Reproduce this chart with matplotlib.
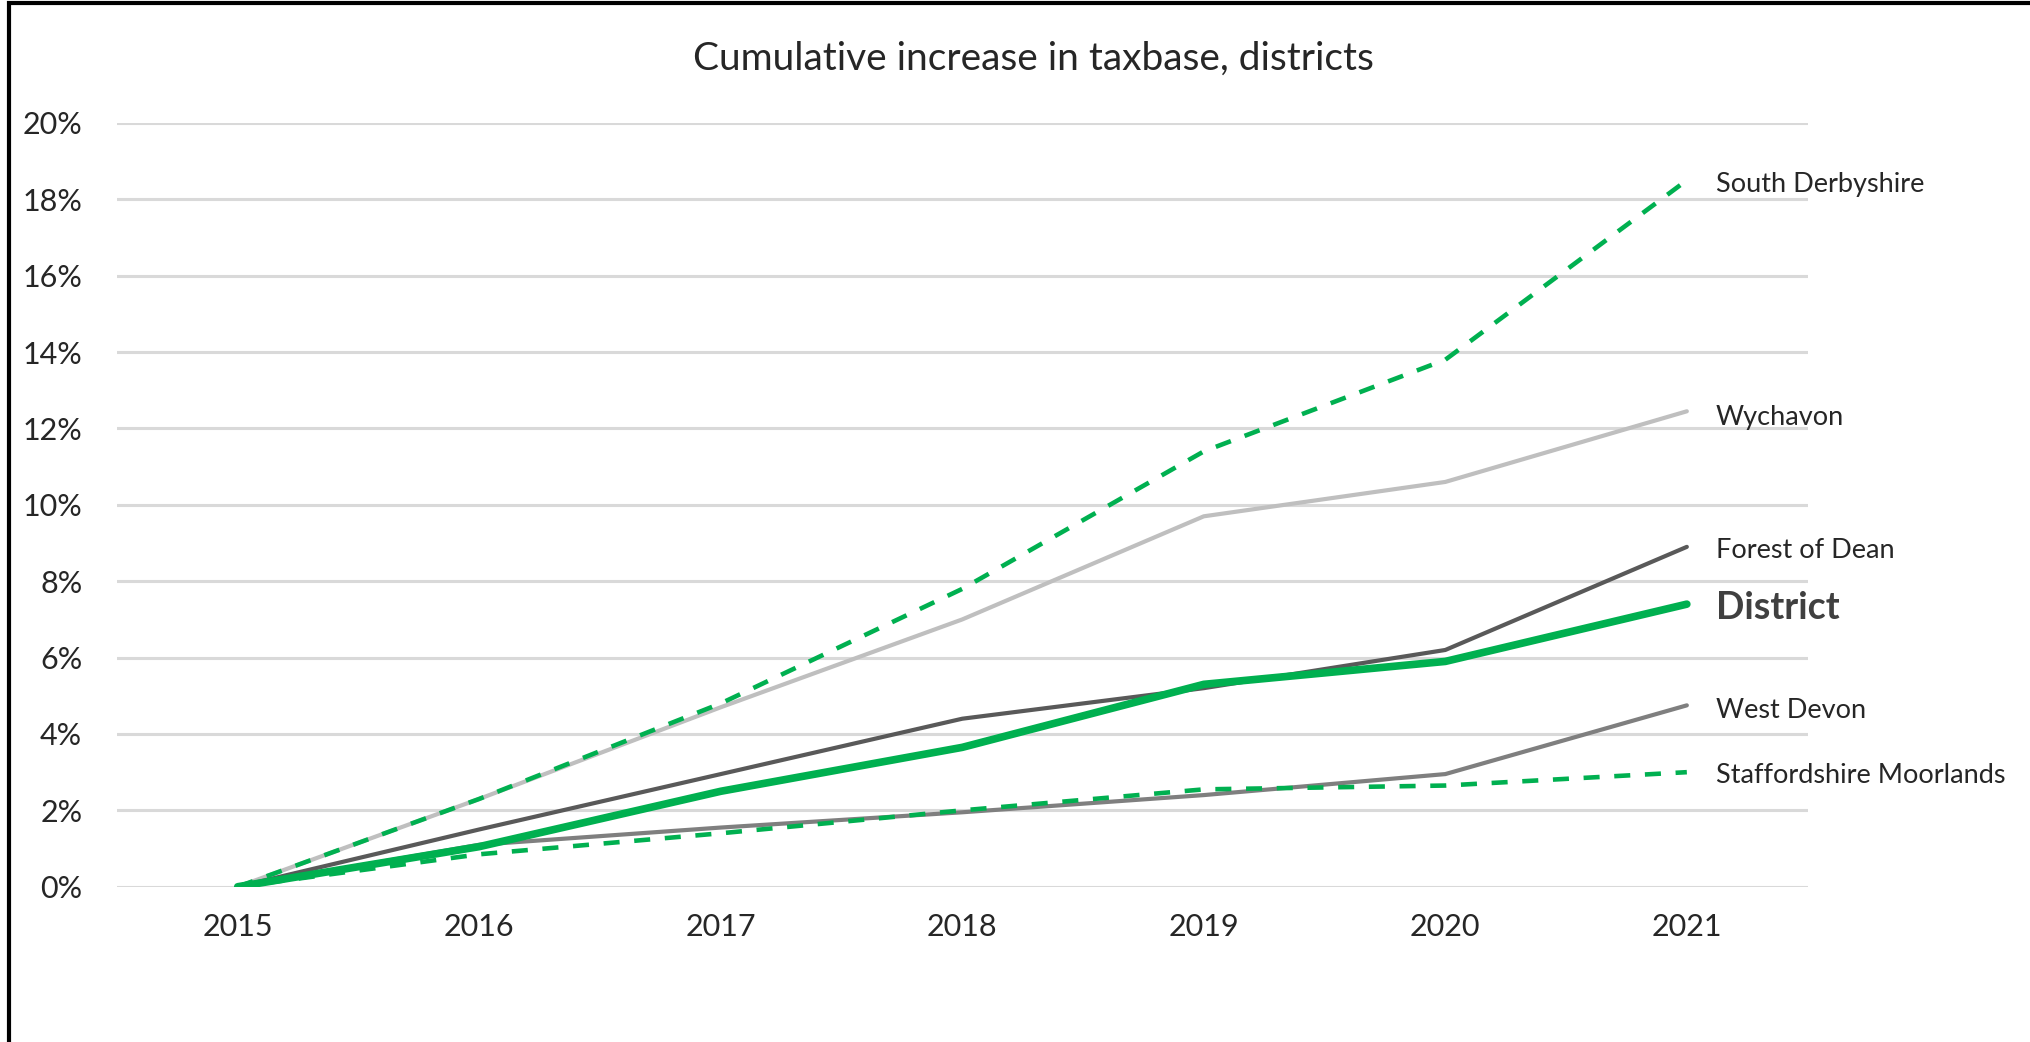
# cumulative increase in taxbase for districts line chart with end labels

import matplotlib.pyplot as plt
from matplotlib.ticker import PercentFormatter
from matplotlib.patches import Rectangle

years = [2015, 2016, 2017, 2018, 2019, 2020, 2021]

south_derbyshire = [0.0, 2.3, 4.8, 7.8, 11.4, 13.8, 18.5]
wychavon = [0.0, 2.3, 4.7, 7.0, 9.7, 10.6, 12.45]
forest_of_dean = [0.0, 1.5, 2.95, 4.4, 5.2, 6.2, 8.9]
district = [0.0, 1.05, 2.5, 3.65, 5.3, 5.9, 7.4]
west_devon = [0.0, 1.1, 1.55, 1.95, 2.4, 2.95, 4.75]
staffs_moorlands = [0.0, 0.85, 1.4, 2.0, 2.55, 2.65, 3.0]

GREEN = "#00B050"

plt.rcParams["font.family"] = ["Lato", "DejaVu Sans"]

fig = plt.figure(figsize=(20.31, 10.42), dpi=100)
ax = fig.add_axes([0.0576, 0.149, 0.8324, 0.733])

# grey lines first then green so green sits on top where they cross
ax.plot(years, wychavon, color="#BFBFBF", lw=3.0, solid_capstyle="round")
ax.plot(years, west_devon, color="#7F7F7F", lw=3.0, solid_capstyle="round")
ax.plot(years, forest_of_dean, color="#595959", lw=3.0, solid_capstyle="round")
ax.plot(years, staffs_moorlands, color=GREEN, lw=3.3, dashes=(3.5, 3.2))
ax.plot(years, south_derbyshire, color=GREEN, lw=3.3, dashes=(3.5, 3.2))
ax.plot(years, district, color=GREEN, lw=5.5, solid_capstyle="round")

# end labels
lab_x = 2021 + 0.12
lab_kw = dict(fontsize=19.5, color="#262626", va="center", ha="left",
              clip_on=False)
ax.text(lab_x, 18.4, "South Derbyshire", **lab_kw)
ax.text(lab_x, 12.3, "Wychavon", **lab_kw)
ax.text(lab_x, 8.8, "Forest of Dean", **lab_kw)
ax.text(lab_x, 7.3, "District", fontsize=27, fontweight="bold", color="#404040",
        va="center", ha="left", clip_on=False)
ax.text(lab_x, 4.62, "West Devon", **lab_kw)
ax.text(lab_x, 2.92, "Staffordshire Moorlands", **lab_kw)

ax.set_xlim(2014.5, 2021.5)
ax.set_ylim(0, 20)
ax.set_xticks(years)
ax.set_yticks(range(0, 21, 2))
ax.yaxis.set_major_formatter(PercentFormatter(decimals=0))
ax.tick_params(axis="both", length=0, labelsize=22, colors="#262626")
ax.tick_params(axis="x", pad=19)
ax.tick_params(axis="y", pad=25)
ax.grid(axis="y", color="#D9D9D9", lw=2.2)
ax.set_axisbelow(True)
for s in ax.spines.values():
    s.set_visible(False)

fig.text(0.509, 0.944, "Cumulative increase in taxbase, districts",
         fontsize=28, color="#262626", ha="center", va="center")

# black frame on top and left edges
fig.patches.append(Rectangle((0.0045, -0.1), 1.2, 1.097, transform=fig.transFigure,
                             fill=False, edgecolor="black", lw=3.0))

fig.savefig("out.png", dpi=100)
